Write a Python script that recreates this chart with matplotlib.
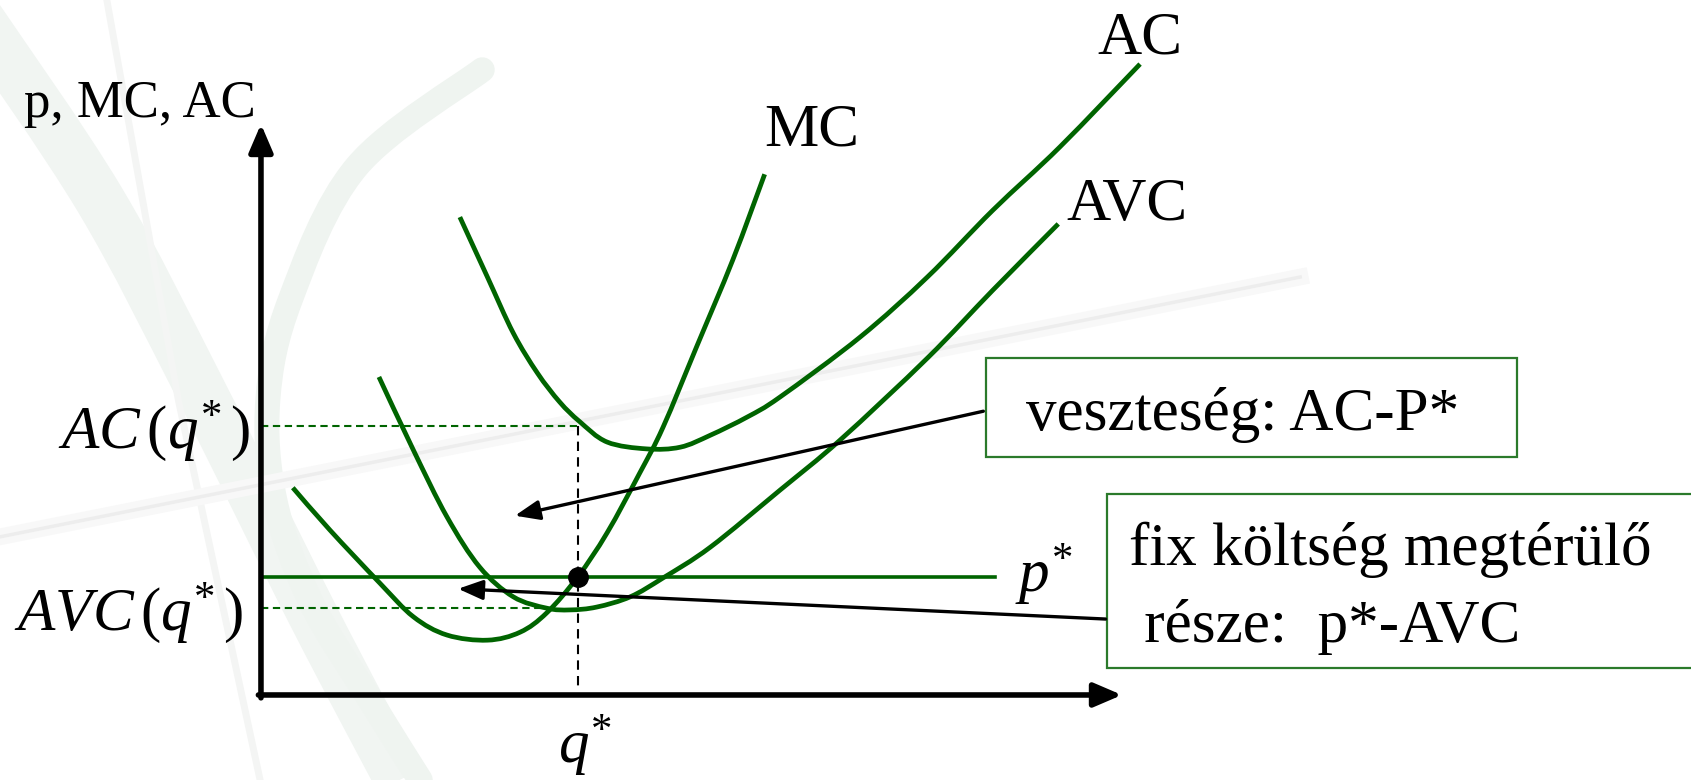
import matplotlib
matplotlib.use("Agg")
import matplotlib.pyplot as plt
import numpy as np
from matplotlib.patches import Rectangle, PathPatch
from matplotlib.path import Path

plt.rcParams["font.family"] = ["Liberation Serif", "DejaVu Serif"]
plt.rcParams["mathtext.fontset"] = "custom"
plt.rcParams["mathtext.rm"] = "Liberation Serif"
plt.rcParams["mathtext.it"] = "Liberation Serif:italic"

GREEN = "#006400"
BOX_EDGE = "#2b7a2b"

# marginal cost
mc_q = [0.37, 0.80, 1.38, 1.77, 2.16, 2.63, 3.01, 3.32, 3.68, 4.02, 4.40, 4.67, 5.06, 5.48, 5.85]
mc_c = [3.63, 2.89, 1.96, 1.37, 1.05, 0.96, 1.10, 1.44, 2.07, 2.84, 3.89, 4.69, 6.10, 7.62, 9.12]

# average variable cost
avc_q = [1.37, 1.77, 2.16, 2.54, 2.93, 3.32, 3.59, 3.90, 4.29, 4.67, 5.22, 6.03, 6.73, 7.74, 8.50, 9.26]
avc_c = [5.57, 4.29, 3.12, 2.24, 1.72, 1.52, 1.49, 1.54, 1.72, 2.05, 2.59, 3.59, 4.47, 5.90, 7.09, 8.25]

# average cost
ac_q = [2.31, 2.63, 2.93, 3.21, 3.47, 3.70, 4.02, 4.48, 4.87, 5.22, 5.65, 6.03, 6.96, 7.74, 8.50, 9.28, 10.21]
ac_c = [8.37, 7.32, 6.34, 5.64, 5.13, 4.79, 4.43, 4.31, 4.34, 4.55, 4.87, 5.22, 6.27, 7.32, 8.49, 9.60, 11.05]

q_star = 3.68
p_star = 2.07
ac_at_q = 4.71
avc_at_q = 1.52
avc_guide_end = 3.24
price_line_end = 8.53
axis_len = 10

# faint background ornament
band_x = [-3.3, -1.87, -0.70, 0.59, 1.61]
band_y = [11.9, 8.67, 5.34, 1.44, -1.49]
leaf_x = [2.57, 1.11, 0.34, 0.08, 0.16, 0.57, 1.27, 1.85]
leaf_y = [10.95, 9.25, 6.92, 5.17, 3.42, 1.66, -0.09, -1.49]
stem_x = [-1.79, -0.96, -0.01]
stem_y = [12.17, 5.17, -1.49]
streak_x = [-3.03, 12.07]
streak_y = [2.77, 7.32]


def smooth(xs, ys):
    # Catmull-Rom segments through the given points, as a cubic Bezier path
    pts = np.column_stack([xs, ys])
    n = len(pts)
    verts = [pts[0]]
    codes = [Path.MOVETO]
    for i in range(n - 1):
        p0 = pts[max(i - 1, 0)]
        p1 = pts[i]
        p2 = pts[i + 1]
        p3 = pts[min(i + 2, n - 1)]
        verts += [p1 + (p2 - p0) / 6, p2 - (p3 - p1) / 6, p2]
        codes += [Path.CURVE4] * 3
    return Path(verts, codes)


def curve(ax, xs, ys, **kw):
    ax.add_patch(PathPatch(smooth(xs, ys), fill=False, **kw))


fig = plt.figure(figsize=(16.91, 7.80), dpi=100)
ax = fig.add_axes([0, 0, 1, 1])
ax.set_xlim(-3.031, 16.609)
ax.set_ylim(-1.489, 12.172)
ax.axis("off")

curve(ax, band_x, band_y, edgecolor="#f1f5f2", lw=36, capstyle="butt", zorder=0)
curve(ax, leaf_x, leaf_y, edgecolor="#eff4f0", lw=18, capstyle="round", zorder=0)
ax.plot(stem_x, stem_y, color="#f4f5f4", lw=5, zorder=0)
ax.plot(streak_x, streak_y, color="#f8f8f8", lw=12, zorder=0)
ax.plot(streak_x, streak_y, color="#ededed", lw=2.5, zorder=0)

# axes with arrow heads
axis_arrow = dict(arrowstyle="-|>,head_length=0.7,head_width=0.3", mutation_scale=24,
                  lw=4, color="black", shrinkA=0, shrinkB=0)
ax.annotate("", xy=(0, axis_len), xytext=(0, -0.05), arrowprops=axis_arrow, zorder=5)
ax.annotate("", xy=(axis_len, 0), xytext=(-0.03, 0), arrowprops=axis_arrow, zorder=5)

# guide lines
ax.plot([0, q_star], [ac_at_q, ac_at_q], color=GREEN, lw=1.5, ls=(0, (3.5, 2.2)), zorder=2)
ax.plot([0, avc_guide_end], [avc_at_q, avc_at_q], color=GREEN, lw=1.5, ls=(0, (3.5, 2.2)), zorder=2)
ax.plot([q_star, q_star], [ac_at_q, 0.1], color="black", lw=1.5, ls=(0, (4.5, 3)), zorder=2)
ax.plot([0, price_line_end], [p_star, p_star], color=GREEN, lw=2.6, zorder=3)

# cost curves
for q, c in [(mc_q, mc_c), (avc_q, avc_c), (ac_q, ac_c)]:
    curve(ax, q, c, edgecolor=GREEN, lw=3.4, capstyle="butt", zorder=3)

ax.plot([q_star], [p_star], "o", color="black", ms=14, zorder=6)

# labels
big = 44
ax.text(-2.75, 10.12, "p, MC, AC", fontsize=38, va="baseline", ha="left")
ax.text(5.85, 9.63, "MC", fontsize=big, va="baseline", ha="left")
ax.text(9.72, 11.24, "AC", fontsize=big, va="baseline", ha="left")
ax.text(9.36, 8.32, "AVC", fontsize=big, va="baseline", ha="left")
ax.text(-0.13, 4.33, r"$AC\,(q^{*}\,)$", fontsize=big, va="baseline", ha="right")
ax.text(-0.21, 1.14, r"$AVC\,(q^{*}\,)$", fontsize=big, va="baseline", ha="right")
ax.text(8.76, 1.80, r"$p^{*}$", fontsize=big, va="baseline", ha="left")
ax.text(3.45, -1.19, r"$q^{*}$", fontsize=big, va="baseline", ha="left")

# annotation boxes
ax.add_patch(Rectangle((8.42, 4.17), 6.17, 1.73, facecolor="white", edgecolor=BOX_EDGE,
                       lw=1.6, zorder=4))
ax.text(8.885, 4.64, "veszteség: AC-P*", fontsize=big, va="baseline", ha="left", zorder=5)
ax.add_patch(Rectangle((9.83, 0.47), 8.0, 3.05, facecolor="white", edgecolor=BOX_EDGE,
                       lw=1.6, zorder=4, clip_on=False))
ax.text(10.08, 2.28, "fix költség megtérülő", fontsize=big, va="baseline", ha="left", zorder=5)
ax.text(10.08, 0.93, " része:  p*-AVC", fontsize=big, va="baseline", ha="left", zorder=5)

pointer = dict(arrowstyle="-|>,head_length=0.75,head_width=0.3", mutation_scale=20,
               lw=2.4, color="black", shrinkA=0, shrinkB=0)
ax.annotate("", xy=(2.95, 3.14), xytext=(8.39, 4.97), arrowprops=pointer, zorder=5)
ax.annotate("", xy=(2.29, 1.86), xytext=(9.81, 1.33), arrowprops=pointer, zorder=5)

fig.savefig("out.png", dpi=100)
